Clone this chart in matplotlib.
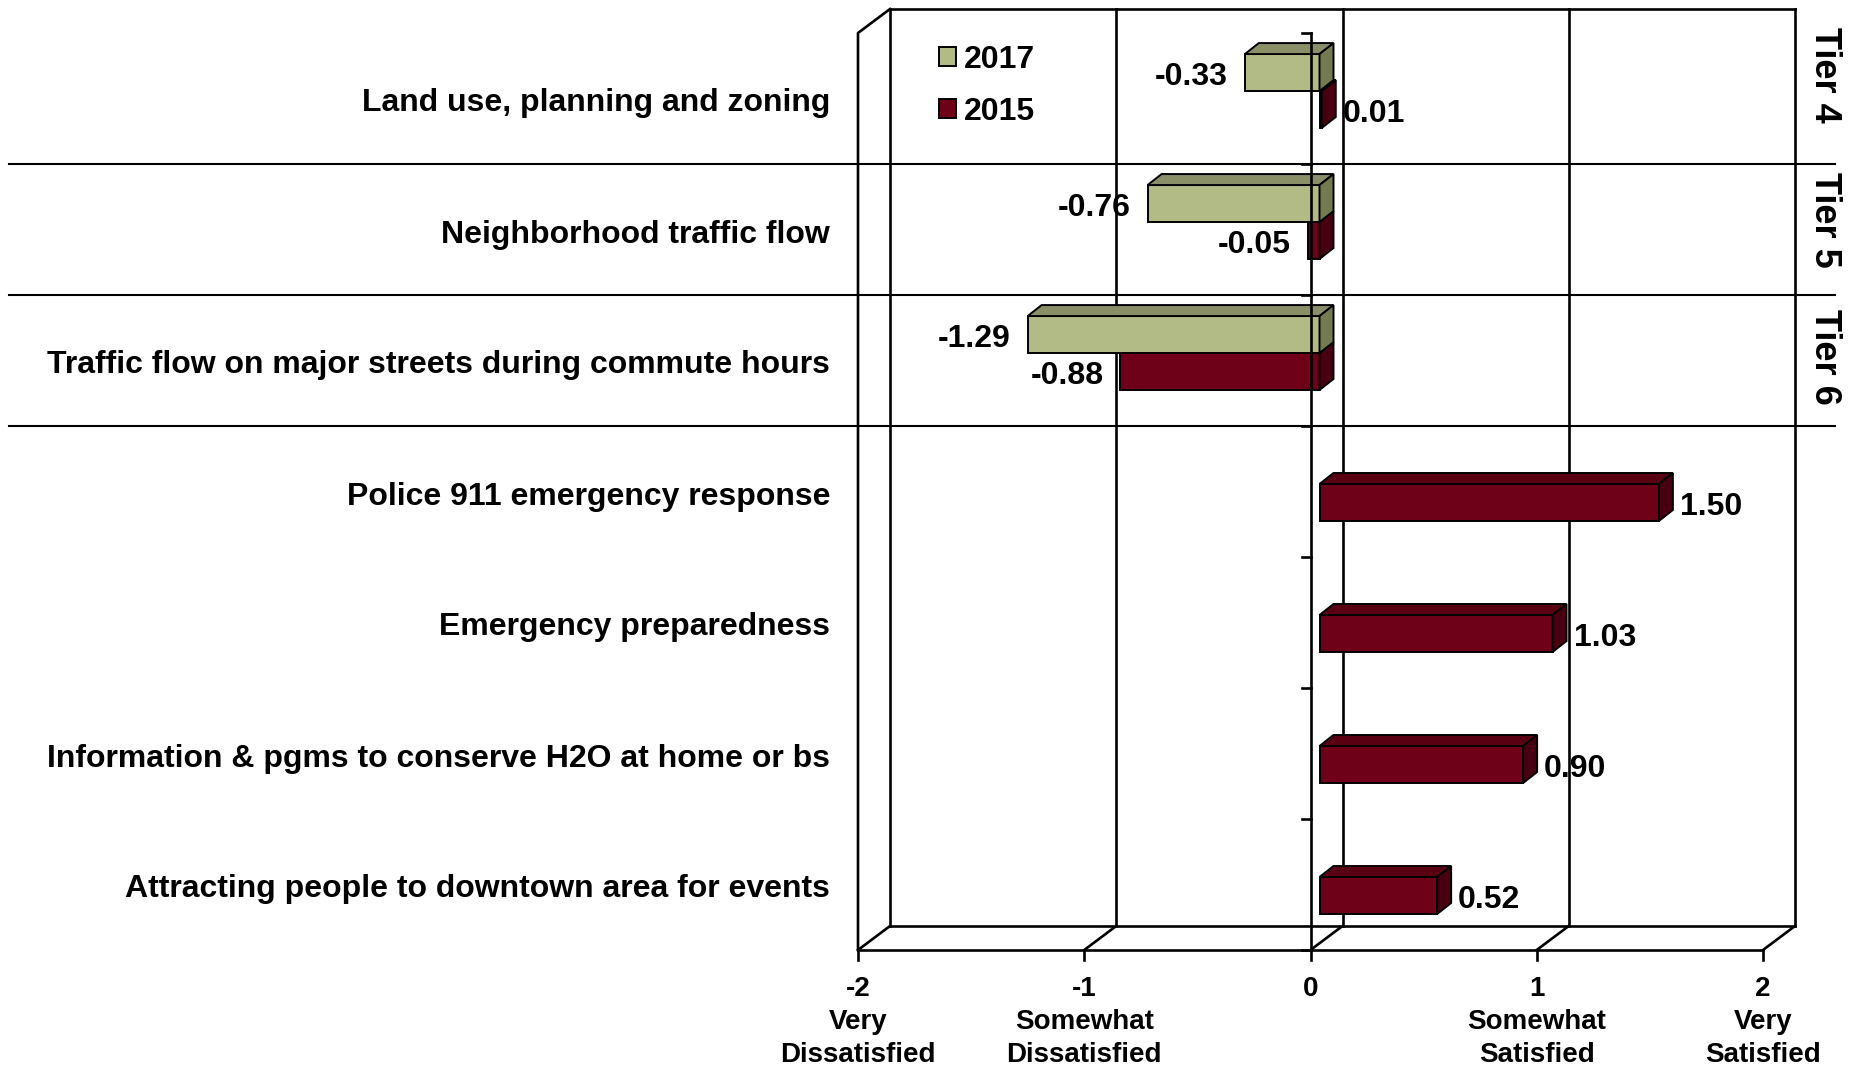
import numpy as np
import matplotlib.pyplot as plt
from matplotlib.patches import Polygon, Patch

plt.rcParams['font.family'] = ['Liberation Sans', 'DejaVu Sans']
plt.rcParams['font.weight'] = 'bold'

# data
categories = [
    "Land use, planning and zoning",
    "Neighborhood traffic flow",
    "Traffic flow on major streets during commute hours",
    "Police 911 emergency response",
    "Emergency preparedness",
    "Information & pgms to conserve H2O at home or bs",
    "Attracting people to downtown area for events",
]
vals_2017 = [-0.33, -0.76, -1.29, np.nan, np.nan, np.nan, np.nan]
vals_2015 = [0.01, -0.05, -0.88, 1.50, 1.03, 0.90, 0.52]
tiers = ["Tier 4", "Tier 5", "Tier 6"]
ticks = [-2, -1, 0, 1, 2]
tick_desc = ["Very\nDissatisfied", "Somewhat\nDissatisfied", "",
             "Somewhat\nSatisfied", "Very\nSatisfied"]

# colours: front, top, side
col_2017 = ("#b2bb86", "#8a8f67", "#757a50")
col_2015 = ("#6e0017", "#5a0013", "#480010")

W, H = 1851, 1068
fig = plt.figure(figsize=(W / 100, H / 100), dpi=100)
ax = fig.add_axes([0, 0, 1, 1])
ax.axis('off')

# map value axis and category axis onto the pixel frame of the original
x_m2, x_p2 = 858, 1763
top_px, floor_px = 33, 950
ux = (x_p2 - x_m2) / 4
uy = (floor_px - top_px) / len(categories)
n = len(categories)
ax.set_xlim(-2 - x_m2 / ux, 2 + (W - x_p2) / ux)
ax.set_ylim(n + (H - floor_px) / uy, -top_px / uy)


def px_x(p):
    return p / ux


def px_y(p):
    return p / uy


lw = 1.9
wdx, wdy = px_x(32), px_y(24)

# back wall and gridlines
for v in ticks:
    ax.plot([v + wdx, v + wdx], [-wdy, n - wdy], color='k', lw=lw, zorder=1)
    ax.plot([v, v + wdx], [n, n - wdy], color='k', lw=lw, zorder=1)
    ax.plot([v, v], [n, n + px_y(10)], color='k', lw=lw, zorder=1)
ax.plot([-2 + wdx, 2 + wdx], [-wdy, -wdy], color='k', lw=lw, zorder=1)
ax.plot([-2 + wdx, 2 + wdx], [n - wdy, n - wdy], color='k', lw=lw, zorder=1)
ax.plot([-2, 2], [n, n], color='k', lw=lw, zorder=1)
# side wall
ax.plot([-2, -2, -2 + wdx], [n, 0, -wdy], color='k', lw=lw, zorder=1)

# tier separators
for k in range(1, len(tiers) + 1):
    ax.axhline(k, xmin=9 / W, xmax=1835 / W, color='k', lw=1.5, zorder=2)

# bars
bx0 = px_x(9)
bdx, bdy = px_x(14), px_y(11)
h = 37 / uy
y_pos = np.arange(n)
series = [("2015", vals_2015, y_pos + 0.584, col_2015),
          ("2017", vals_2017, y_pos + 0.302, col_2017)]

for name, vals, yc, cols in series:
    ax.barh(yc, vals, left=bx0, height=h, color=cols[0],
            edgecolor='k', linewidth=1.4, zorder=3)
    for v, y in zip(vals, yc):
        if np.isnan(v):
            continue
        xa, xb = sorted([bx0, bx0 + v])
        yt, yb = y - h / 2, y + h / 2
        ax.add_patch(Polygon([(xa, yt), (xb, yt), (xb + bdx, yt - bdy),
                              (xa + bdx, yt - bdy)], closed=True,
                             facecolor=cols[1], edgecolor='k', lw=1.4, zorder=3))
        ax.add_patch(Polygon([(xb, yt), (xb + bdx, yt - bdy),
                              (xb + bdx, yb - bdy), (xb, yb)], closed=True,
                             facecolor=cols[2], edgecolor='k', lw=1.4, zorder=3))
        if v >= 0:
            ax.text(xb + bdx + px_x(7), y + px_y(4), f"{v:.2f}", ha='left',
                    va='center', fontsize=23, zorder=5)
        else:
            ax.text(xa - px_x(17), y + px_y(4), f"{v:.2f}", ha='right',
                    va='center', fontsize=23, zorder=5)

# category axis at zero
ax.plot([0, 0], [0, n], color='k', lw=lw, zorder=4)
for k in range(n + 1):
    ax.plot([-px_x(9), 0], [k, k], color='k', lw=lw, zorder=4)

# category labels
for i, c in enumerate(categories):
    ax.text(-2 - px_x(28), i + 0.5 + px_y(5), c, ha='right', va='center',
            fontsize=23)

# value tick labels
for v, d in zip(ticks, tick_desc):
    lab = str(v) if not d else f"{v}\n{d}"
    ax.text(v, n + px_y(26), lab, ha='center', va='top', fontsize=20,
            linespacing=1.36)

# tier labels on the right
tier_y = [0.32, 1.43, 2.47]
for t, ty in zip(tiers, tier_y):
    ax.text(2 + px_x(61), ty, t, rotation=-90, ha='center', va='center',
            fontsize=26)

# legend
handles = [Patch(facecolor=col_2017[0], edgecolor='k', lw=1.4),
           Patch(facecolor=col_2015[0], edgecolor='k', lw=1.4)]
ax.legend(handles, ["2017", "2015"], loc='upper left',
          bbox_to_anchor=(939 / W, 1 - 45 / H), frameon=False, fontsize=23,
          handlelength=0.53, handleheight=0.53, handletextpad=0.25,
          labelspacing=0.68, borderpad=0, borderaxespad=0)

fig.savefig("out.png", dpi=100)
